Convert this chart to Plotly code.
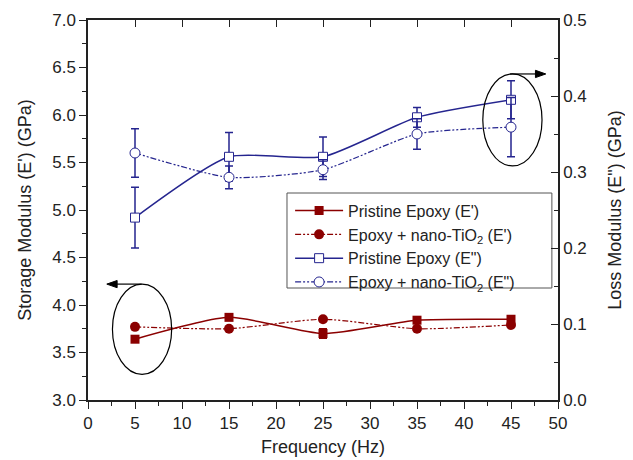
import plotly.graph_objects as go

freq = [5, 15, 25, 35, 45]

# Storage modulus E' (GPa), left axis
pristine_Ep = [3.64, 3.87, 3.70, 3.84, 3.85]
pristine_Ep_err = [0.02, 0.02, 0.05, 0.02, 0.02]
tio2_Ep = [3.77, 3.75, 3.85, 3.75, 3.79]
tio2_Ep_err = [0.01, 0.01, 0.01, 0.01, 0.01]

# Loss modulus E'' (GPa), right axis
pristine_Epp = [0.240, 0.320, 0.320, 0.372, 0.395]
pristine_Epp_err = [0.040, 0.032, 0.026, 0.013, 0.025]
tio2_Epp = [0.325, 0.293, 0.303, 0.350, 0.359]
tio2_Epp_err = [0.032, 0.015, 0.013, 0.020, 0.039]

x_ticks = [0, 5, 10, 15, 20, 25, 30, 35, 40, 45, 50]
left_ticks = [3.0, 3.5, 4.0, 4.5, 5.0, 5.5, 6.0, 6.5, 7.0]
right_ticks = [0.0, 0.1, 0.2, 0.3, 0.4, 0.5]

RED = "#8b0000"
BLUE = "#25258f"
DASHDOTDOT = "6px,2px,2px,2px,2px,2px"
FONT = "Liberation Sans, Arial, sans-serif"
SMOOTH = 0.6

fig = go.Figure()

fig.add_trace(go.Scatter(
    x=freq, y=pristine_Ep, name="Pristine Epoxy (E')", mode="lines+markers",
    line=dict(color=RED, width=1.5, shape="spline", smoothing=SMOOTH),
    marker=dict(symbol="square", size=9, color=RED),
    error_y=dict(type="data", array=pristine_Ep_err, color=RED, thickness=1.5, width=4),
))
fig.add_trace(go.Scatter(
    x=freq, y=tio2_Ep, name="Epoxy + nano-TiO<sub>2</sub> (E')", mode="lines+markers",
    line=dict(color=RED, width=1.2, dash=DASHDOTDOT, shape="spline", smoothing=SMOOTH),
    marker=dict(symbol="circle", size=10, color=RED),
    error_y=dict(type="data", array=tio2_Ep_err, color=RED, thickness=1.5, width=4),
))
fig.add_trace(go.Scatter(
    x=freq, y=pristine_Epp, name="Pristine Epoxy (E\")", mode="lines+markers", yaxis="y2",
    line=dict(color=BLUE, width=1.5, shape="spline", smoothing=SMOOTH),
    marker=dict(symbol="square", size=9, color="white", line=dict(color=BLUE, width=1)),
    error_y=dict(type="data", array=pristine_Epp_err, color=BLUE, thickness=1.5, width=4),
))
fig.add_trace(go.Scatter(
    x=freq, y=tio2_Epp, name="Epoxy + nano-TiO<sub>2</sub> (E\")", mode="lines+markers", yaxis="y2",
    line=dict(color=BLUE, width=1.2, dash=DASHDOTDOT, shape="spline", smoothing=SMOOTH),
    marker=dict(symbol="circle", size=10, color="white", line=dict(color=BLUE, width=1)),
    error_y=dict(type="data", array=tio2_Epp_err, color=BLUE, thickness=1.5, width=4),
))

# legend frame (drawn as a shape so it can be wider than the text)
fig.add_shape(type="rect", xref="paper", yref="paper", x0=0.4234, x1=0.987, y0=0.2947, y1=0.5447,
              line=dict(color="#555", width=1), fillcolor="white", layer="below")

# ellipses and arrows (decorations)
fig.add_shape(type="circle", xref="x", yref="y", x0=2.6, x1=8.9, y0=3.27, y1=4.22,
              line=dict(color="black", width=1.2))
fig.add_shape(type="line", xref="x", yref="y", x0=5.7, x1=2.6, y0=4.22, y1=4.22,
              line=dict(color="black", width=1.2))
fig.add_shape(type="path", xref="x", yref="y",
              path="M 2.0 4.22 L 3.1 4.258 L 3.1 4.182 Z",
              fillcolor="black", line=dict(color="black", width=1))
fig.add_shape(type="circle", xref="x", yref="y2", x0=42.0, x1=48.3, y0=0.308, y1=0.429,
              line=dict(color="black", width=1.2))
fig.add_shape(type="line", xref="x", yref="y2", x0=44.9, x1=48.0, y0=0.429, y1=0.429,
              line=dict(color="black", width=1.2))
fig.add_shape(type="path", xref="x", yref="y2",
              path="M 48.7 0.429 L 47.6 0.4338 L 47.6 0.4242 Z",
              fillcolor="black", line=dict(color="black", width=1))

axis_common = dict(showline=True, linecolor="#222", linewidth=1.5, showgrid=False, zeroline=False,
                   tickcolor="#222", tickwidth=1.2, automargin=False,
                   tickfont=dict(size=17, color="#222", family=FONT))

# page body has an 8px default margin, so the figure is sized/margined to compensate
fig.update_layout(
    width=625, height=452,
    margin=dict(l=80, r=75, t=12, b=60),
    paper_bgcolor="white", plot_bgcolor="white",
    font=dict(family=FONT, color="#222"),
    showlegend=True,
    legend=dict(x=0.43, y=0.543, xanchor="left", yanchor="top",
                borderwidth=0, bgcolor="rgba(0,0,0,0)",
                font=dict(size=16, family=FONT, color="#222"), tracegroupgap=0, itemwidth=48),
    xaxis=dict(range=[0, 50], tickvals=x_ticks, ticks="outside", ticklen=7,
               minor=dict(ticks="outside", dtick=2.5, ticklen=4, tickcolor="#222"),
               title=dict(text="Frequency (Hz)", font=dict(size=18, family=FONT), standoff=8),
               **axis_common),
    xaxis2=dict(range=[0, 50], overlaying="x", side="top", tickvals=x_ticks, ticks="inside",
                ticklen=7, showticklabels=False, showline=True, linecolor="#222", linewidth=1.5,
                showgrid=False, zeroline=False, tickcolor="#222", tickwidth=1.2, automargin=False),
    yaxis=dict(range=[3.0, 7.0], tickvals=left_ticks, tickformat=".1f", ticks="outside", ticklen=7,
               minor=dict(ticks="outside", dtick=0.25, ticklen=4, tickcolor="#222"),
               title=dict(text="Storage Modulus (E') (GPa)", font=dict(size=18, family=FONT), standoff=16),
               **axis_common),
    yaxis2=dict(range=[0.0, 0.5], overlaying="y", side="right", tickvals=right_ticks, tickformat=".1f",
                ticks="inside", ticklen=7,
                minor=dict(ticks="inside", dtick=0.05, ticklen=4, tickcolor="#222"),
                title=dict(text="Loss Modulus (E\") (GPa)", font=dict(size=18, family=FONT), standoff=23),
                **axis_common),
)

# invisible trace to activate the top axis
fig.add_trace(go.Scatter(x=[None], y=[None], xaxis="x2", showlegend=False, hoverinfo="skip"))

fig.write_html("out.html")
